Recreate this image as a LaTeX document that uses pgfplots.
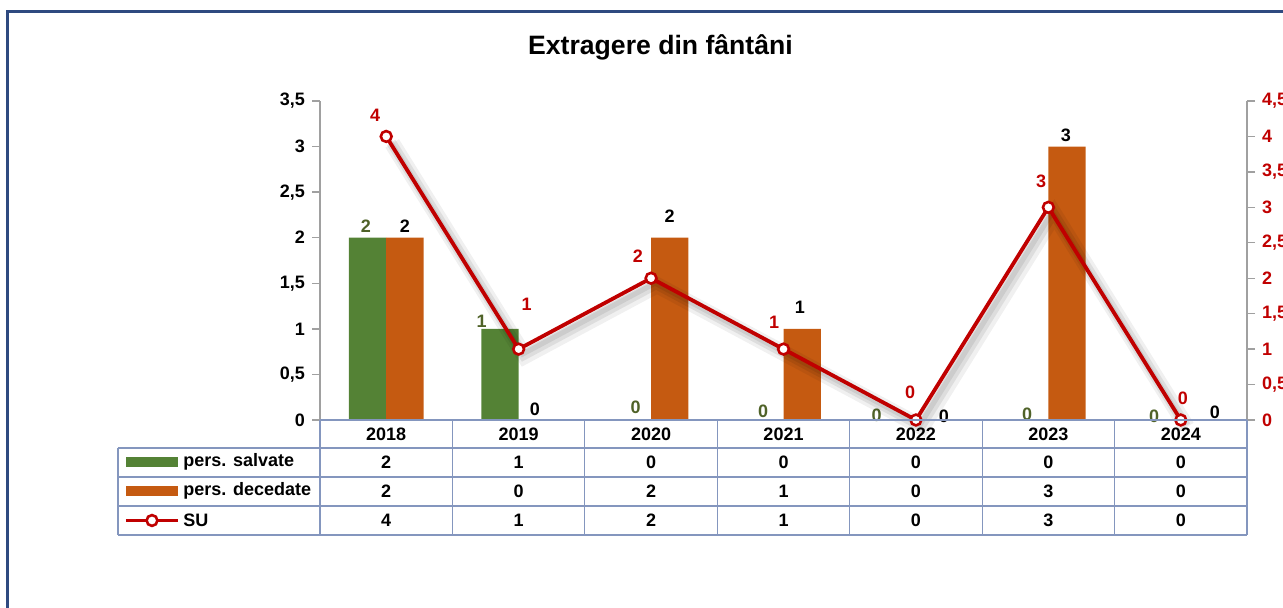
\documentclass[border=0pt]{standalone}
\usepackage{pgfplots}
\pgfplotsset{compat=1.18}
\usepackage{pgfplotstable}
\usepackage{fontspec}
\setmainfont{Liberation Sans}

\definecolor{cgreen}{HTML}{548235}
\definecolor{corange}{HTML}{C55A11}
\definecolor{cred}{HTML}{C00000}
\definecolor{cgreenlbl}{HTML}{4F6228}
\definecolor{cgrid}{HTML}{8496BE}
\definecolor{cframe}{HTML}{2F4A80}
\definecolor{caxis}{HTML}{A0A0A0}

% dx, dy : label offsets in pixels
\pgfplotstableread{
x v dx dy
0 2 -1.6 11.7
1 1 -18.3 7.2
2 0 3.3 12.3
3 0 -1.8 9
4 0 -20.6 5
5 0 -2.7 6
6 0 -8.1 3.3
}\salvate
\pgfplotstableread{
x v dx dy
0 2 0 11.7
1 0 -2.5 10.7
2 2 0 21.7
3 1 -2.3 21.9
4 0 9.3 3.3
5 3 -1.1 11.6
6 0 15.4 7.3
}\decedate
\pgfplotstableread{
x v dx dy
0 4 -11.2 21.4
1 1 8.1 45.1
2 2 -13.1 22.2
3 1 -9.5 27.1
4 0 -5.9 27.3
5 3 -7.3 26.3
6 0 2.2 22
}\su

\newcommand{\lblfont}{\bfseries\fontsize{9}{10}\selectfont}

\begin{document}
\begin{tikzpicture}
\useasboundingbox (-160pt,-94pt) rectangle (481.5pt,210pt);

\begin{axis}[
  at={(0,0)}, anchor=south west,
  scale only axis, width=463.5pt, height=159.5pt,
  xmin=-0.5, xmax=6.5, ymin=0, ymax=3.5, ytick distance=0.5,
  axis y line*=left, axis x line=none, xtick=\empty,
  ybar=0pt, bar width=18.65pt, clip=false,
  tick align=outside, major tick length=4pt,
  y axis line style={draw=caxis, line width=0.7pt},
  ytick style={draw=caxis, line width=0.7pt},
  yticklabel style={font=\lblfont, text=black},
  /pgf/number format/use comma,
  /pgf/number format/assume math mode=true,
  nodes near coords,
  every node near coord/.append style={font=\lblfont, anchor=center,
     xshift=0.5pt*\dx, yshift=0.5pt*\dy},
]
\addplot[fill=cgreen, draw=none,
  visualization depends on={\thisrow{dx}\as\dx},
  visualization depends on={\thisrow{dy}\as\dy},
  nodes near coords style={text=cgreenlbl}] table[x=x,y=v]{\salvate};
\addplot[fill=corange, draw=none,
  visualization depends on={\thisrow{dx}\as\dx},
  visualization depends on={\thisrow{dy}\as\dy},
  nodes near coords style={text=black}] table[x=x,y=v]{\decedate};
\end{axis}

\begin{axis}[
  at={(0,0)}, anchor=south west,
  scale only axis, width=463.5pt, height=159.5pt,
  xmin=-0.5, xmax=6.5, ymin=0, ymax=4.5, ytick distance=0.5,
  axis y line*=right, axis x line=none, xtick=\empty,
  clip=false,
  tick align=outside, major tick length=4pt,
  y axis line style={draw=caxis, line width=0.7pt},
  ytick style={draw=caxis, line width=0.7pt},
  yticklabel style={font=\lblfont, text=cred},
  /pgf/number format/use comma,
  /pgf/number format/assume math mode=true,
]
\addplot[draw=black, draw opacity=0.06, line width=8pt, xshift=3pt, yshift=-3.5pt, no marks, forget plot] table[x=x,y=v]{\su};
\addplot[draw=black, draw opacity=0.08, line width=5pt, xshift=2.5pt, yshift=-3pt, no marks, forget plot] table[x=x,y=v]{\su};
\addplot[draw=black, draw opacity=0.08, line width=2.5pt, xshift=2pt, yshift=-2.5pt, no marks, forget plot] table[x=x,y=v]{\su};
\addplot[cred, line width=1.9pt, mark=*, mark size=2.7pt,
  mark options={fill=white, draw=cred, line width=1.3pt},
  visualization depends on={\thisrow{dx}\as\dx},
  visualization depends on={\thisrow{dy}\as\dy},
  nodes near coords,
  every node near coord/.append style={font=\lblfont, text=cred, anchor=center,
     xshift=0.5pt*\dx, yshift=0.5pt*\dy}] table[x=x,y=v]{\su};
\end{axis}

\begin{scope}[x=0.5pt, y=-0.5pt, shift={(-160pt,210pt)}]
  % frame
  \draw[cframe, line width=1.1pt] (7.5,640) -- (7.5,11.5) -- (1300,11.5);
  % title
  \node[font=\bfseries\fontsize{13.3}{15}\selectfont] at (660.5,47) {Extragere din fântâni};
  % data table grid
  \draw[cgrid, line width=0.6pt] (320,420) -- (1247,420);
  \foreach \yy in {448,477,506,535} \draw[cgrid, line width=0.6pt] (118,\yy) -- (1247,\yy);
  \draw[cgrid, line width=0.6pt] (118,448) -- (118,535);
  \foreach \k in {0,...,7} \draw[cgrid, line width=0.6pt] ({320+132.43*\k},420) -- ({320+132.43*\k},535);
  % years
  \foreach \yr [count=\i from 0] in {2018,2019,2020,2021,2022,2023,2024}
    \node[font=\lblfont] at ({320+132.43*(\i+0.5)},434) {\yr};
  % values
  \foreach \v [count=\i from 0] in {2,1,0,0,0,0,0}
    \node[font=\lblfont] at ({320+132.43*(\i+0.5)},462) {\v};
  \foreach \v [count=\i from 0] in {2,0,2,1,0,3,0}
    \node[font=\lblfont] at ({320+132.43*(\i+0.5)},491) {\v};
  \foreach \v [count=\i from 0] in {4,1,2,1,0,3,0}
    \node[font=\lblfont] at ({320+132.43*(\i+0.5)},520.5) {\v};
  % legend keys
  \fill[cgreen] (126,457) rectangle (178,467);
  \node[font=\lblfont, anchor=west, inner sep=0pt] at (183,462) {pers. salvate};
  \fill[corange] (126,486) rectangle (178,496);
  \node[font=\lblfont, anchor=west, inner sep=0pt] at (183,491) {pers. decedate};
  \draw[cred, line width=1.9pt] (126,520.5) -- (178,520.5);
  \draw[cred, fill=white, line width=1.3pt] (152,520.5) circle (2.7pt);
  \node[font=\lblfont, anchor=west, inner sep=0pt] at (183,520.5) {SU};
\end{scope}
\end{tikzpicture}
\end{document}
